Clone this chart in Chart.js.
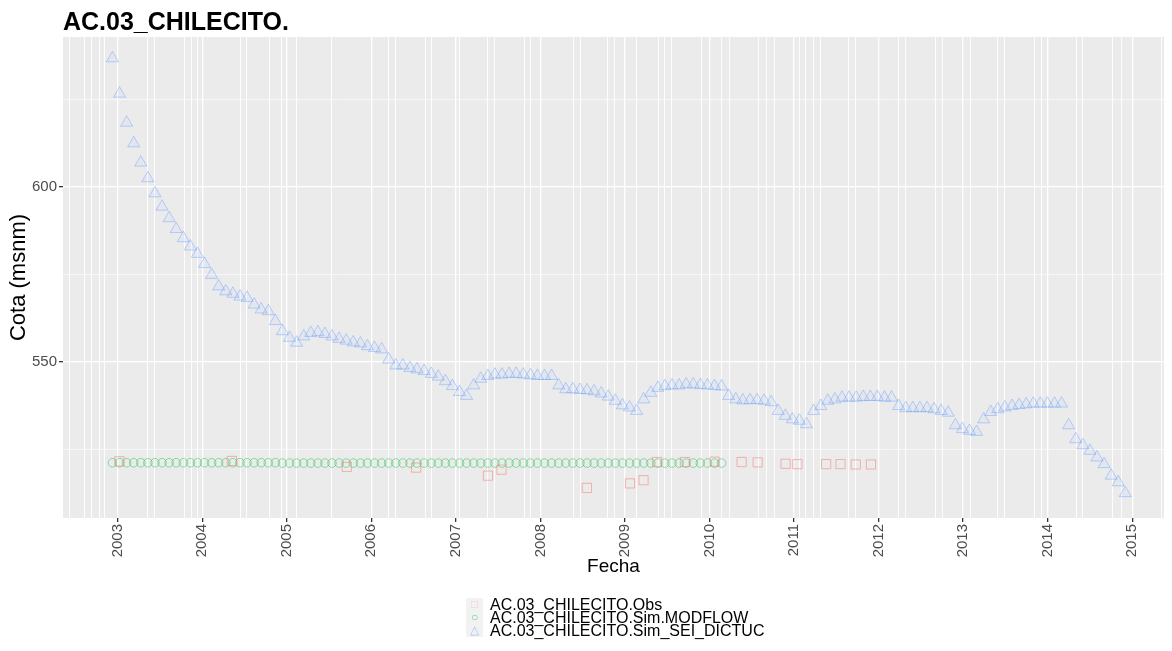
<!DOCTYPE html>
<html>
<head>
<meta charset="utf-8">
<script src="https://cdn.jsdelivr.net/npm/chart.js@4.4.0/dist/chart.umd.min.js"></script>
<style>
  body { margin: 0; background: #fff; font-family: "Liberation Sans", Arial, sans-serif; }
  #wrap { position: relative; width: 1172px; height: 651px; }
  #title { position: absolute; left: 63px; top: 7px; font-size: 25px; font-weight: bold; line-height: 28px; color: #000; }
  #legend { position: absolute; left: 466px; top: 598px; font-size: 16px; line-height: 13px; color: #000; }
  .row { display: flex; align-items: center; height: 13px; }
  .key { width: 17px; height: 13px; background: #F2F2F2; margin-right: 7px; display: flex; align-items: center; justify-content: center; font-size: 12px; }
</style>
</head>
<body>
<div id="wrap">
  <canvas id="myChart" width="1172" height="651"></canvas>
  <div id="title">AC.03_CHILECITO.</div>
  <div id="legend">
    <div class="row"><span class="key" style="color: rgba(248,118,109,0.3)">□</span>AC.03_CHILECITO.Obs</div>
    <div class="row"><span class="key" style="color: rgba(0,186,56,0.6)">○</span>AC.03_CHILECITO.Sim.MODFLOW</div>
    <div class="row"><span class="key" style="color: rgba(97,156,255,0.5)">△</span>AC.03_CHILECITO.Sim_SEI_DICTUC</div>
  </div>
</div>
<script>
// data
// simulated series: one value per stress period (~30.6 days), first one in Dec 2002
const simStart = 2002.938;
const simStepDays = 30.6;

const seiDictuc = [
  636.8, 626.7, 618.4, 612.5, 607.0, 602.5, 598.2, 594.4, 591.1, 588.0, 585.4, 583.0,
  580.9, 578.0, 574.9, 571.6, 570.2, 569.5, 568.7, 568.3, 566.4, 565.0, 564.5, 561.7,
  558.8, 556.9, 555.5, 557.3, 558.3, 558.5, 558.0, 557.3, 556.6, 556.1, 555.6, 555.3,
  554.5, 554.0, 553.6, 550.7, 549.0, 549.0, 548.3, 547.9, 547.4, 546.6, 545.8, 544.5,
  543.1, 541.4, 540.3, 543.3, 545.2, 546.0, 546.4, 546.4, 546.6, 546.6, 546.4, 546.2,
  546.0, 546.0, 546.0, 543.3, 542.2, 542.2, 542.0, 541.9, 541.6, 541.0, 540.1, 538.9,
  537.6, 537.0, 536.0, 539.3, 541.2, 542.6, 543.1, 543.3, 543.3, 543.6, 543.6, 543.4,
  543.3, 543.1, 543.0, 540.3, 539.3, 539.0, 539.1, 539.1, 538.9, 538.5, 536.0, 534.6,
  533.6, 533.2, 532.2, 536.0, 537.4, 538.9, 539.3, 539.8, 539.8, 539.8, 540.0, 540.0,
  540.0, 539.8, 539.8, 537.4, 536.8, 536.8, 536.8, 536.8, 536.5, 536.0, 535.5, 531.9,
  530.8, 530.3, 530.0, 533.6, 535.7, 536.5, 537.0, 537.4, 537.7, 537.9, 538.1, 538.1,
  538.1, 538.1, 538.1, 531.9, 527.9, 526.2, 524.6, 522.7, 520.8, 517.5, 515.6, 512.5
];

const modflow = [
  521.2, 521.2, 521.2, 521.2, 521.2, 521.2, 521.2, 521.2, 521.2, 521.2, 521.2, 521.2,
  521.2, 521.2, 521.2, 521.2, 521.2, 521.2, 521.2, 521.2, 521.2, 521.2, 521.2, 521.2,
  521.1, 521.1, 521.1, 521.1, 521.1, 521.1, 521.1, 521.1, 521.1, 521.1, 521.1, 521.1,
  521.1, 521.1, 521.1, 521.1, 521.1, 521.1, 521.1, 521.1, 521.1, 521.1, 521.1, 521.1,
  521.1, 521.1, 521.1, 521.1, 521.1, 521.1, 521.1, 521.1, 521.1, 521.1, 521.1, 521.1,
  521.1, 521.1, 521.1, 521.1, 521.1, 521.1, 521.1, 521.1, 521.1, 521.1, 521.1, 521.1,
  521.1, 521.1, 521.1, 521.1, 521.1, 521.1, 521.1, 521.1, 521.1, 521.1, 521.1, 521.1,
  521.1, 521.1, 521.1
];

const obsFechas = [
  2003.02, 2004.35, 2005.71, 2006.53, 2007.38, 2007.54, 2008.55, 2009.06, 2009.22, 2009.38,
  2009.71, 2010.06, 2010.38, 2010.57, 2010.90, 2011.04, 2011.38, 2011.55, 2011.73, 2011.91
];
const obsCota = [
  521.6, 521.7, 520.0, 519.8, 517.5, 519.2, 514.0, 515.3, 516.2, 521.4,
  521.4, 521.5, 521.4, 521.3, 520.9, 520.8, 520.8, 520.8, 520.7, 520.7
];

const yearTicks = [2003, 2004, 2005, 2006, 2007, 2008, 2009, 2010, 2011, 2012, 2013, 2014, 2015];
const xGridExtra = [
  2002.435, 2002.612, 2002.694, 2002.788, 2002.847, 2003.353, 2003.435, 2003.788, 2003.871, 2003.941,
  2004.447, 2004.518, 2004.8, 2004.941, 2005.118, 2005.529, 2006.2, 2006.282, 2006.635, 2006.706,
  2007.047, 2007.376, 2007.459, 2007.812, 2007.882, 2008.388, 2008.471, 2008.788, 2008.882, 2009.141,
  2009.4, 2009.471, 2009.553, 2009.906, 2010.141, 2010.235, 2010.576, 2010.671, 2010.765, 2011.059,
  2011.141, 2011.235, 2011.318, 2011.647, 2011.729, 2012.235, 2012.318, 2012.671, 2012.753, 2013.082,
  2013.412, 2013.494, 2013.847, 2013.929, 2014.341, 2014.412, 2014.765, 2014.871, 2015.341
];
const yTicks = [525, 550, 575, 600, 625];
const yLabels = [550, 600];

// date (decimal year) of each stress period
const simX = (i) => simStart + (i * simStepDays) / 365.25;

const seiPoints = seiDictuc.map((v, i) => ({ x: simX(i), y: v }));
const modPoints = modflow.map((v, i) => ({ x: simX(i), y: v }));
const obsPoints = obsCota.map((v, i) => ({ x: obsFechas[i], y: v }));

const xTickValues = yearTicks.concat(xGridExtra).sort((a, b) => a - b);

// no extra room for the tick labels at the panel ends
const noPadding = () => ({ left: 0, top: 0, right: 0, bottom: 0 });

const panelBg = {
  id: "panelBg",
  beforeDraw(chart) {
    const { ctx, chartArea } = chart;
    ctx.save();
    ctx.fillStyle = "#EBEBEB";
    ctx.fillRect(chartArea.left, chartArea.top, chartArea.right - chartArea.left, chartArea.bottom - chartArea.top);
    ctx.restore();
  },
};

const ctx = document.getElementById("myChart");

new Chart(ctx, {
  type: "scatter",
  data: {
    datasets: [
      {
        label: "AC.03_CHILECITO.Obs",
        data: obsPoints,
        pointStyle: "rect",
        pointRadius: 6.5,
        borderWidth: 1,
        borderColor: "rgba(248,118,109,0.5)",
        backgroundColor: "rgba(0,0,0,0)",
      },
      {
        label: "AC.03_CHILECITO.Sim.MODFLOW",
        data: modPoints,
        pointStyle: "circle",
        pointRadius: 4.3,
        borderWidth: 1,
        borderColor: "rgba(0,186,56,0.42)",
        backgroundColor: "rgba(0,0,0,0)",
      },
      {
        label: "AC.03_CHILECITO.Sim_SEI_DICTUC",
        data: seiPoints,
        pointStyle: "triangle",
        pointRadius: 7,
        borderWidth: 1,
        borderColor: "rgba(97,156,255,0.4)",
        backgroundColor: "rgba(97,156,255,0.06)",
      },
    ],
  },
  options: {
    responsive: false,
    animation: false,
    layout: {
      padding: { top: 37, right: 2, bottom: 73, left: 0 },
    },
    plugins: {
      legend: { display: false },
      tooltip: { enabled: false },
    },
    scales: {
      x: {
        type: "linear",
        min: 2002.353,
        max: 2015.376,
        afterBuildTicks: (scale) => {
          scale.ticks = xTickValues.map((v) => ({ value: v }));
        },
        afterFit: (scale) => {
          scale.height = 60;
          scale.paddingLeft = 0;
          scale.paddingRight = 0;
          scale.getPadding = noPadding;
        },
        ticks: {
          autoSkip: false,
          minRotation: 90,
          maxRotation: 90,
          padding: 2,
          color: "#4D4D4D",
          font: { family: "Liberation Sans", size: 15 },
          callback: (v) => (yearTicks.includes(v) ? String(v) : ""),
        },
        grid: {
          color: "#FFFFFF",
          lineWidth: (c) => (c.tick && yearTicks.includes(c.tick.value) ? 1.3 : 0.9),
          tickColor: (c) => (c.tick && yearTicks.includes(c.tick.value) ? "#333333" : "rgba(0,0,0,0)"),
          tickLength: 4,
        },
        border: { display: false },
        title: {
          display: true,
          text: "Fecha",
          color: "#000",
          font: { family: "Liberation Sans", size: 19 },
          padding: 0,
        },
      },
      y: {
        type: "linear",
        min: 505.4,
        max: 642.9,
        afterBuildTicks: (scale) => {
          scale.ticks = yTicks.map((v) => ({ value: v }));
        },
        afterFit: (scale) => {
          scale.width = 63;
          scale.getPadding = noPadding;
        },
        ticks: {
          padding: 2,
          color: "#4D4D4D",
          font: { family: "Liberation Sans", size: 15 },
          callback: (v) => (yLabels.includes(v) ? String(v) : ""),
        },
        grid: {
          color: "#FFFFFF",
          lineWidth: (c) => (c.tick && yLabels.includes(c.tick.value) ? 1.3 : 0.6),
          tickColor: (c) => (c.tick && yLabels.includes(c.tick.value) ? "#333333" : "rgba(0,0,0,0)"),
          tickLength: 4,
        },
        border: { display: false },
        title: {
          display: true,
          text: "Cota (msnm)",
          color: "#000",
          font: { family: "Liberation Sans", size: 22 },
          padding: { top: 6, bottom: 0 },
        },
      },
    },
  },
  plugins: [panelBg],
});
</script>
</body>
</html>
